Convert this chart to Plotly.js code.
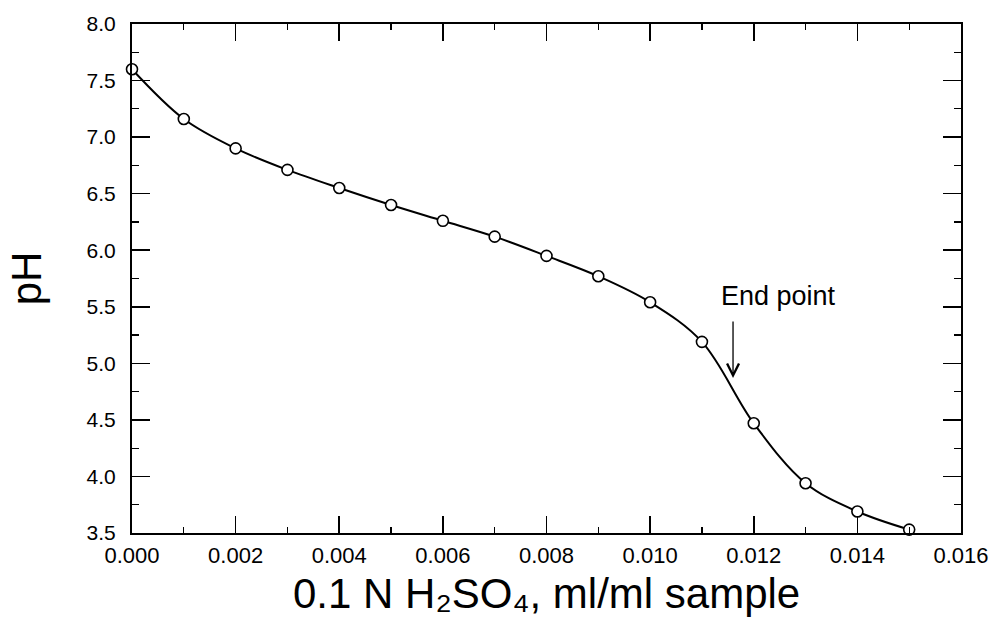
<!DOCTYPE html>
<html>
<head>
<meta charset="utf-8">
<script src="https://cdn.plot.ly/plotly-3.0.1.min.js"></script>
<style>html,body{margin:0;padding:0;background:#fff;}#chart{width:993px;height:617px;}</style>
</head>
<body>
<div id="chart"></div>
<script>
// Titrant added, ml of 0.1 N H2SO4 per ml sample
const acidVolume = [0.000, 0.001, 0.002, 0.003, 0.004, 0.005, 0.006, 0.007, 0.008, 0.009, 0.010, 0.011, 0.012, 0.013, 0.014, 0.015];
// Measured pH
const pHValues = [7.60, 7.16, 6.90, 6.71, 6.55, 6.40, 6.26, 6.12, 5.95, 5.77, 5.54, 5.19, 4.47, 3.94, 3.69, 3.53];
// End point annotation (arrow tip)
const endPointX = 0.0116;
const endPointY = 4.87;
const endPointLabel = 'End point';

const xTitle = '0.1 N H\u2082SO\u2084, ml/ml sample';
const yTitle = 'pH';

const FONT = 'Liberation Sans, Arial, Helvetica, sans-serif';

const trace = {
  x: acidVolume,
  y: pHValues,
  type: 'scatter',
  mode: 'lines+markers',
  line: {shape: 'spline', smoothing: 1, color: '#000', width: 2},
  marker: {symbol: 'circle', size: 11, color: '#fff', line: {color: '#000', width: 1.6}},
  cliponaxis: false,
  hoverinfo: 'x+y'
};

const axisCommon = {
  showgrid: false,
  zeroline: false,
  showline: true,
  linecolor: '#000',
  linewidth: 2,
  mirror: 'ticks',
  ticks: 'inside',
  tickcolor: '#000',
  tickwidth: 1.6,
  automargin: false,
  tickfont: {family: FONT, size: 22, color: '#000'}
};

const layout = {
  width: 993,
  height: 617,
  paper_bgcolor: '#fff',
  plot_bgcolor: '#fff',
  showlegend: false,
  margin: {l: 132, r: 32, t: 24, b: 84},
  font: {family: FONT, color: '#000'},
  xaxis: Object.assign({}, axisCommon, {
    range: [0, 0.016],
    tick0: 0,
    dtick: 0.002,
    tickformat: '.3f',
    ticklen: 17,
    ticklabelstandoff: 2,
    minor: {dtick: 0.001, ticks: 'inside', ticklen: 6, tickwidth: 1.2, tickcolor: '#000', showgrid: false}
  }),
  yaxis: Object.assign({}, axisCommon, {
    range: [3.5, 8],
    tick0: 3.5,
    dtick: 0.5,
    tickformat: '.1f',
    ticklen: 18,
    ticklabelstandoff: 10,
    tickfont: {family: FONT, size: 21, color: '#000'},
    minor: {dtick: 0.25, ticks: 'inside', ticklen: 7, tickwidth: 1.2, tickcolor: '#000', showgrid: false},
    title: {text: yTitle, font: {family: FONT, size: 42, color: '#000'}, standoff: 32}
  }),
  annotations: [
    {
      xref: 'paper', yref: 'paper', x: 0.5, y: 0,
      xanchor: 'center', yanchor: 'top', yshift: -35,
      text: xTitle, showarrow: false,
      font: {family: FONT, size: 42, color: '#000'}
    },
    {
      x: endPointX, y: endPointY, xref: 'x', yref: 'y',
      text: ' ', showarrow: true,
      ax: 0, ay: -65,
      arrowhead: 5, arrowsize: 1.8, arrowwidth: 1.3, arrowcolor: '#000'
    },
    {
      x: endPointX, y: endPointY, xref: 'x', yref: 'y',
      text: endPointLabel, showarrow: false,
      xshift: 45, yshift: 82,
      font: {family: FONT, size: 27, color: '#000'}
    }
  ]
};

Plotly.newPlot('chart', [trace], layout, {displayModeBar: false, staticPlot: true});
</script>
</body>
</html>
